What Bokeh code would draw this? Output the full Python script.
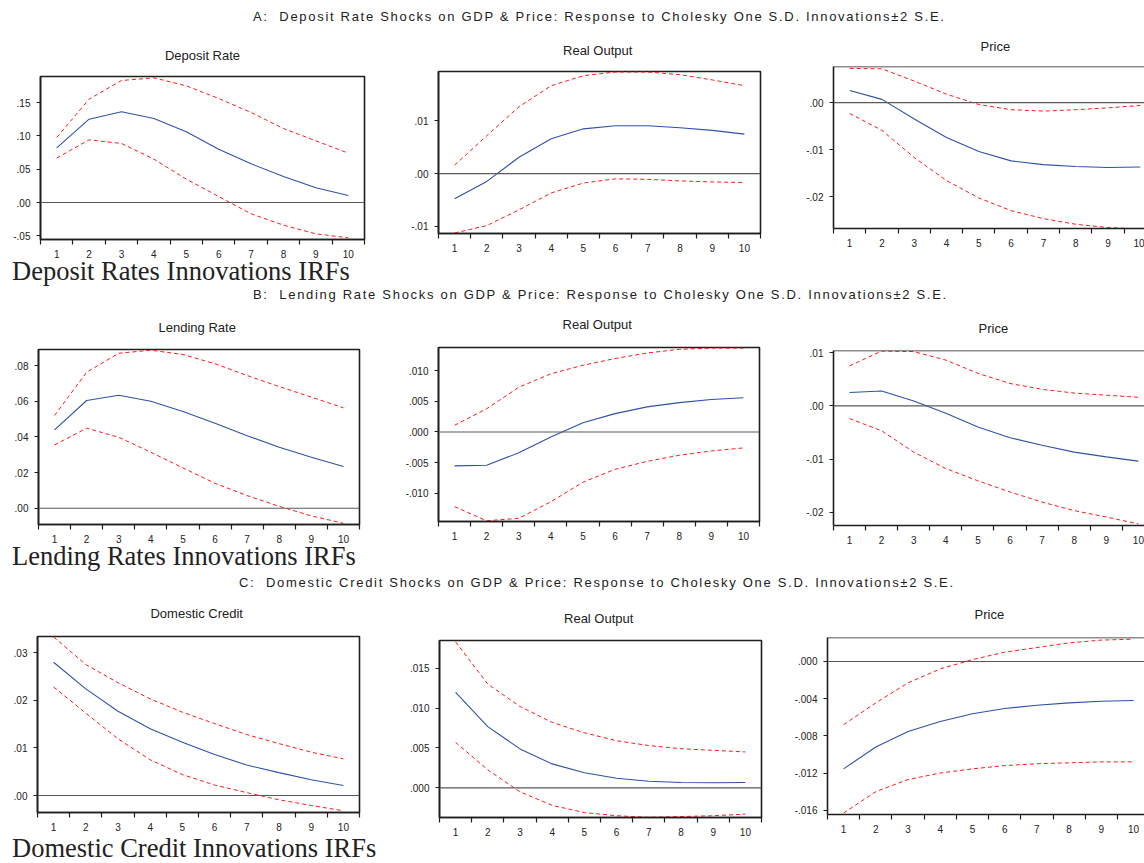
from bokeh.plotting import figure
from bokeh.models import Range1d, FixedTicker, CustomJSTickFormatter, Span, Div, Spacer
from bokeh.layouts import column, row
from bokeh.embed import file_html
from bokeh.resources import INLINE

periods = [1, 2, 3, 4, 5, 6, 7, 8, 9, 10]

# ---- Panel A: deposit rate shocks ----
a_dep_resp = [0.082, 0.125, 0.136, 0.126, 0.106, 0.080, 0.058, 0.039, 0.022, 0.0105]
a_dep_hi = [0.0975, 0.155, 0.183, 0.187, 0.175, 0.156, 0.135, 0.111, 0.0925, 0.074]
a_dep_lo = [0.0667, 0.094, 0.0886, 0.065, 0.035, 0.009, -0.017, -0.034, -0.047, -0.053]

a_out_resp = [-0.0048, -0.0015, 0.0031, 0.0066, 0.0085, 0.0091, 0.0091, 0.0087, 0.0082, 0.0075]
a_out_hi = [0.0016, 0.0072, 0.0127, 0.0167, 0.0186, 0.0193, 0.0193, 0.0188, 0.0178, 0.0167]
a_out_lo = [-0.0113, -0.0099, -0.0069, -0.0037, -0.0018, -0.0010, -0.0011, -0.0014, -0.0016, -0.0017]

a_prc_resp = [0.0026, 0.0007, -0.0035, -0.0074, -0.0104, -0.0124, -0.0132, -0.0136, -0.0138, -0.0137]
a_prc_hi = [0.0073, 0.0072, 0.0046, 0.0018, -0.0004, -0.0015, -0.0018, -0.0015, -0.0011, -0.0006]
a_prc_lo = [-0.0023, -0.0059, -0.0117, -0.0166, -0.0203, -0.0230, -0.0247, -0.0259, -0.0266, -0.0269]

# ---- Panel B: lending rate shocks ----
b_lend_resp = [0.0439, 0.0604, 0.0634, 0.0600, 0.0542, 0.0477, 0.0407, 0.0342, 0.0286, 0.0234]
b_lend_hi = [0.052, 0.0763, 0.0869, 0.0886, 0.0862, 0.081, 0.0744, 0.0682, 0.0623, 0.0563]
b_lend_lo = [0.0355, 0.0449, 0.0398, 0.0314, 0.0226, 0.014, 0.0071, 0.0011, -0.0043, -0.0084]

b_out_resp = [-0.00554, -0.00543, -0.0034, -0.0008, 0.0015, 0.0030, 0.0041, 0.0048, 0.0053, 0.0056]
b_out_hi = [0.0011, 0.0038, 0.0073, 0.0095, 0.0109, 0.0120, 0.0129, 0.0135, 0.0137, 0.0137]
b_out_lo = [-0.0122, -0.0145, -0.0141, -0.0114, -0.0082, -0.0061, -0.0048, -0.0038, -0.0031, -0.0026]

b_prc_resp = [0.0025, 0.0028, 0.0009, -0.0014, -0.0040, -0.0060, -0.0074, -0.0087, -0.0096, -0.0104]
b_prc_hi = [0.0075, 0.0103, 0.0102, 0.0086, 0.0061, 0.0042, 0.0031, 0.0024, 0.0020, 0.0016]
b_prc_lo = [-0.0024, -0.0047, -0.0087, -0.0118, -0.0141, -0.0162, -0.0181, -0.0197, -0.0209, -0.0222]

# ---- Panel C: domestic credit shocks ----
c_cred_resp = [0.0280, 0.0224, 0.0177, 0.0140, 0.0112, 0.0086, 0.0064, 0.0048, 0.0033, 0.0021]
c_cred_hi = [0.0333, 0.0275, 0.0237, 0.0203, 0.0175, 0.0151, 0.0128, 0.0109, 0.0091, 0.0077]
c_cred_lo = [0.0228, 0.0173, 0.0119, 0.0075, 0.0044, 0.0022, 0.0006, -0.0009, -0.0021, -0.0032]

c_out_resp = [0.01196, 0.00767, 0.00488, 0.0030, 0.00188, 0.0012, 0.00083, 0.00067, 0.00063, 0.00067]
c_out_hi = [0.0183, 0.0130, 0.0102, 0.0082, 0.0069, 0.0059, 0.0053, 0.0049, 0.0047, 0.0045]
c_out_lo = [0.0057, 0.00225, -0.0005, -0.0022, -0.0031, -0.0035, -0.0037, -0.0036, -0.0035, -0.0033]

c_prc_resp = [-0.01155, -0.0092, -0.00753, -0.00646, -0.00563, -0.00506, -0.0047, -0.00445, -0.00427, -0.0042]
c_prc_hi = [-0.0068, -0.00445, -0.0023, -0.0008, 0.0002, 0.0010, 0.0015, 0.0020, 0.0023, 0.0024]
c_prc_lo = [-0.0163, -0.0140, -0.0127, -0.0120, -0.01155, -0.0112, -0.0110, -0.0109, -0.0108, -0.0108]

super_titles = [
    "A:&nbsp; Deposit Rate Shocks on GDP &amp; Price: Response to Cholesky One S.D. Innovations\u00b12 S.E.",
    "B:&nbsp; Lending Rate Shocks on GDP &amp; Price: Response to Cholesky One S.D. Innovations\u00b12 S.E.",
    "C:&nbsp; Domestic Credit Shocks on GDP &amp; Price: Response to Cholesky One S.D. Innovations\u00b12 S.E.",
]
big_labels = [
    "Deposit Rates Innovations IRFs",
    "Lending Rates Innovations IRFs",
    "Domestic Credit Innovations IRFs",
]

BLUE = "#2f52a8"
RED = "#ff1a1a"
FRAME = "#1e1e1e"
FONT = "Liberation Sans"

FMT_CODE = """
const s = Math.abs(tick).toFixed(d).replace(/^0/, '');
return (tick < -1e-9 ? '-' : '') + s;
"""

TOP = 52     # common top border of every panel (room for the title)
BOTTOM = 30  # common bottom border of every panel


def panel(title, resp, lo, hi, yrange, yticks, dec, xend, width,
          frame_h, bl, br, right_col=False, title_left=None, title_standoff=28):
    p = figure(width=width, height=TOP + frame_h + BOTTOM,
               x_range=Range1d(0.5, xend), y_range=Range1d(*yrange),
               output_backend="svg", toolbar_location=None,
               min_border_left=bl, min_border_right=br,
               min_border_top=TOP, min_border_bottom=BOTTOM,
               background_fill_color=None, border_fill_color=None)
    p.margin = 0
    p.xgrid.visible = False
    p.ygrid.visible = False
    p.title.text = title
    if title_left is None:
        p.title.align = "center"
    else:
        p.title.align = "left"
        p.title.offset = title_left
    p.title.standoff = title_standoff
    p.title.text_font = FONT
    p.title.text_font_size = "13px"
    p.title.text_font_style = "normal"
    p.title.text_color = "#222222"
    if right_col:
        p.outline_line_color = None
        p.add_layout(Span(location=yrange[1], dimension="width",
                          line_color=FRAME, line_width=1.6))
    else:
        p.outline_line_color = FRAME
        p.outline_line_width = 1.6
        p.outline_line_alpha = 1.0

    p.add_layout(Span(location=0, dimension="width", line_color="#5a5a5a", line_width=1.2))

    p.line(periods, hi, line_color=RED, line_width=1.0, line_dash="4 3")
    p.line(periods, lo, line_color=RED, line_width=1.0, line_dash="4 3")
    p.line(periods, resp, line_color=BLUE, line_width=1.1)

    xa = p.xaxis[0]
    xa.ticker = FixedTicker(ticks=periods,
                            minor_ticks=[v - 0.5 for v in periods] + [periods[-1] + 0.5])
    xa.axis_line_color = FRAME
    xa.axis_line_width = 1.6
    xa.major_tick_line_color = None
    xa.major_tick_out = 0
    xa.major_tick_in = 0
    xa.minor_tick_line_color = FRAME
    xa.minor_tick_line_width = 1.2
    xa.minor_tick_out = 5
    xa.minor_tick_in = 0
    xa.major_label_standoff = 5
    xa.major_label_text_font = FONT
    xa.major_label_text_font_size = "10px"
    xa.major_label_text_color = "#222222"

    ya = p.yaxis[0]
    ya.ticker = FixedTicker(ticks=yticks, minor_ticks=[])
    ya.formatter = CustomJSTickFormatter(args=dict(d=dec), code=FMT_CODE)
    ya.axis_line_color = FRAME
    ya.axis_line_width = 1.6
    ya.major_tick_line_color = FRAME
    ya.major_tick_line_width = 1.2
    ya.major_tick_out = 4
    ya.major_tick_in = 0
    ya.minor_tick_line_color = None
    ya.major_label_standoff = 6
    ya.major_label_text_font = FONT
    ya.major_label_text_font_size = "10px"
    ya.major_label_text_color = "#222222"
    return p


def text_div(html, width, height, style):
    return Div(text=f'<div style="{style}">{html}</div>', width=width, height=height, margin=0)


def panel_row(specs, row_top):
    """specs: list of (kwargs, frame_top, frame_bottom) in page pixels."""
    heights = [s[2] - row_top + BOTTOM for s in specs]
    row_h = max(heights)
    cells = []
    for kw, ftop, fbot in specs:
        sp_top = ftop - row_top - TOP
        p = panel(frame_h=fbot - ftop, **kw)
        items = []
        if sp_top > 0:
            items.append(Spacer(width=kw["width"], height=sp_top, margin=0))
        items.append(p)
        rest = row_h - sp_top - p.height
        if rest > 0:
            items.append(Spacer(width=kw["width"], height=rest, margin=0))
        cells.append(column(*items, spacing=0, margin=0))
    return row(*cells, spacing=0, margin=0), row_h


W1, W2, W3 = 400, 390, 354

# Row A
A_TOP = 14
rowA, hA = panel_row([
    (dict(title="Deposit Rate", resp=a_dep_resp, lo=a_dep_lo, hi=a_dep_hi, yrange=(-0.0555, 0.189),
          yticks=[-0.05, 0.0, 0.05, 0.10, 0.15], dec=2, xend=10.5, width=W1, bl=40, br=36,
          title_standoff=28), 76, 239),
    (dict(title="Real  Output", resp=a_out_resp, lo=a_out_lo, hi=a_out_hi, yrange=(-0.0114, 0.0194),
          yticks=[-0.01, 0.0, 0.01], dec=2, xend=10.5, width=W2, bl=38, br=30,
          title_standoff=28), 71, 233),
    (dict(title="Price", resp=a_prc_resp, lo=a_prc_lo, hi=a_prc_hi, yrange=(-0.0268, 0.0077),
          yticks=[-0.02, -0.01, 0.0], dec=2, xend=10.13, width=W3, bl=43, br=0,
          right_col=True, title_left=147, title_standoff=26), 66, 228),
], A_TOP)

# Row B
B_TOP = 295
rowB, hB = panel_row([
    (dict(title="Lending  Rate", resp=b_lend_resp, lo=b_lend_lo, hi=b_lend_hi, yrange=(-0.0091, 0.089),
          yticks=[0.0, 0.02, 0.04, 0.06, 0.08], dec=2, xend=10.5, width=W1, bl=38, br=41,
          title_standoff=30), 349, 524),
    (dict(title="Real  Output", resp=b_out_resp, lo=b_out_lo, hi=b_out_hi, yrange=(-0.01462, 0.0138),
          yticks=[-0.010, -0.005, 0.0, 0.005, 0.010], dec=3, xend=10.5, width=W2, bl=38, br=31,
          title_standoff=32), 347, 521),
    (dict(title="Price", resp=b_prc_resp, lo=b_prc_lo, hi=b_prc_hi, yrange=(-0.0225, 0.0104),
          yticks=[-0.02, -0.01, 0.0, 0.01], dec=2, xend=10.19, width=W3, bl=43, br=0,
          right_col=True, title_left=145, title_standoff=30), 350, 525),
], B_TOP)

# Row C
C_TOP = 584
rowC, hC = panel_row([
    (dict(title="Domestic  Credit", resp=c_cred_resp, lo=c_cred_lo, hi=c_cred_hi, yrange=(-0.00357, 0.0334),
          yticks=[0.0, 0.01, 0.02, 0.03], dec=2, xend=10.5, width=W1, bl=37, br=41,
          title_standoff=32), 636, 812),
    (dict(title="Real  Output", resp=c_out_resp, lo=c_out_lo, hi=c_out_hi, yrange=(-0.00372, 0.01847),
          yticks=[0.0, 0.005, 0.010, 0.015], dec=3, xend=10.5, width=W2, bl=39, br=29,
          title_standoff=30), 640, 817),
    (dict(title="Price", resp=c_prc_resp, lo=c_prc_lo, hi=c_prc_hi, yrange=(-0.01646, 0.00258),
          yticks=[-0.016, -0.012, -0.008, -0.004, 0.0], dec=3, xend=10.34, width=W3, bl=37, br=0,
          right_col=True, title_left=147, title_standoff=32), 637, 814),
], C_TOP)

TW = W1 + W2 + W3
sup_style = ("white-space:nowrap;font-family:'Liberation Sans';font-size:13px;"
             "color:#222;letter-spacing:1.7px;margin:0;padding-left:{pl}px;line-height:{lh}px;")
big_style = ("white-space:nowrap;font-family:'Liberation Serif';font-size:26.5px;"
             "color:#222;margin:0;padding-left:12px;line-height:17.4px;"
             "position:relative;top:{dy}px;")

endA = A_TOP + hA            # 269
endB = B_TOP + hB            # 555
endC = C_TOP + hC            # 847

layout = column(
    text_div(super_titles[0], TW, A_TOP, sup_style.format(pl=253, lh=34)),
    rowA,
    text_div(big_labels[0], TW, 12, big_style.format(dy=263 - endA)),
    text_div(super_titles[1], TW, B_TOP - endA - 12,
             sup_style.format(pl=253, lh=2 * (295 - endA - 12))),
    rowB,
    text_div(big_labels[1], TW, 12, big_style.format(dy=548 - endB)),
    text_div(super_titles[2], TW, C_TOP - endB - 12,
             sup_style.format(pl=239, lh=2 * (583 - endB - 12))),
    rowC,
    text_div(big_labels[2], TW, 14, big_style.format(dy=840 - endC)),
    spacing=0, margin=0,
)

open("out.html", "w").write(file_html(layout, INLINE))
